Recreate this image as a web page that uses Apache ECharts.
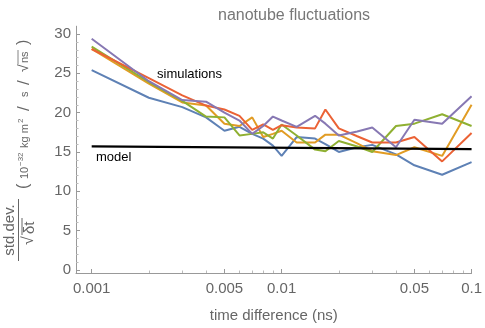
<!DOCTYPE html>
<html>
<head>
<meta charset="utf-8">
<script src="https://cdn.jsdelivr.net/npm/echarts@6/dist/echarts.min.js"></script>
<style>
  html, body { margin: 0; padding: 0; background: #fff; }
  #chart { width: 485px; height: 328px; }
</style>
</head>
<body>
<div id="chart"></div>
<script>
// time differences (ns), shared by every run
var dt = [0.001, 0.002, 0.003, 0.004, 0.005, 0.006, 0.007, 0.008, 0.009, 0.01,
          0.012, 0.015, 0.017, 0.02, 0.025, 0.03, 0.04, 0.05, 0.07, 0.1];

// std.dev./sqrt(dt) for the five simulations
var run1 = [25.4, 21.9, 20.7, 19.4, 17.7, 18.2, 17.3, 16.7, 15.8, 14.5,
            16.9, 16.7, 16.0, 15.0, 15.6, 15.9, 14.7, 13.3, 12.1, 13.7];
var run2 = [28.1, 23.7, 21.3, 20.9, 18.6, 18.3, 19.4, 16.9, 17.3, 17.7,
            16.2, 16.2, 17.2, 17.2, 16.1, 15.1, 14.6, 15.6, 14.5, 21.0];
var run3 = [28.4, 23.9, 21.5, 19.5, 19.4, 17.1, 17.3, 17.5, 16.7, 18.5,
            17.1, 15.3, 15.1, 16.4, 15.7, 15.0, 18.3, 18.6, 19.8, 18.3];
var run4 = [28.1, 24.4, 22.2, 20.9, 20.4, 19.6, 17.8, 18.5, 17.8, 18.4,
            18.1, 18.0, 20.4, 18.0, 17.0, 16.2, 16.2, 16.9, 13.8, 17.4];
var run5 = [29.4, 24.0, 21.6, 21.4, 20.0, 19.0, 17.3, 18.3, 19.5, 19.0,
            18.2, 19.6, 18.6, 17.1, 17.6, 18.1, 15.6, 19.1, 18.6, 22.1];

// model curve
var modelDt = [0.001, 0.1];
var modelVal = [15.7, 15.35];

// ticks
var xTicks = [0.001, 0.005, 0.01, 0.05, 0.1];
var xTickLabels = ['0.001', '0.005', '0.01', '0.05', '0.1'];
var xMinorTicks = [0.002, 0.003, 0.004, 0.006, 0.007, 0.008, 0.009,
                   0.02, 0.03, 0.04, 0.06, 0.07, 0.08, 0.09];
var yTicks = [0, 5, 10, 15, 20, 25, 30];
var yMinorTicks = [1, 2, 3, 4, 6, 7, 8, 9, 11, 12, 13, 14, 16, 17, 18, 19,
                   21, 22, 23, 24, 26, 27, 28, 29];

var xMin = 0.000827, xMax = 0.1;
var yMin = -0.4, yMax = 31;

var colors = ['#5E81B5', '#E19C24', '#8FB032', '#EB6235', '#8778B3'];
var runs = [run1, run2, run3, run4, run5];
var font = 'Liberation Sans, Arial, sans-serif';
var grey = '#666';
var axisGrey = '#999';

function pairs(xs, ys) {
  return xs.map(function (x, i) { return [x, ys[i]]; });
}

var series = runs.map(function (r, k) {
  return {
    type: 'line', xAxisIndex: 0, yAxisIndex: 0,
    data: pairs(dt, r), symbol: 'none',
    lineStyle: { color: colors[k], width: 2 }
  };
});
series.push({
  type: 'line', xAxisIndex: 0, yAxisIndex: 0,
  data: pairs(modelDt, modelVal), symbol: 'none',
  lineStyle: { color: '#000', width: 2.2 }
});

var lx = Math.log10(xMin), hx = Math.log10(xMax);
function xLabel(v) {
  for (var i = 0; i < xTicks.length; i++) {
    if (Math.abs(Math.log10(xTicks[i]) - v) < 1e-6) return xTickLabels[i];
  }
  return '';
}

var t = function (txt, x, y, size, extra) {
  var st = { text: txt, x: x, y: y, fill: grey, font: size + 'px ' + font,
             textAlign: 'left', textVerticalAlign: 'middle' };
  for (var k in extra) st[k] = extra[k];
  return { type: 'text', style: st };
};

var myChart = echarts.init(document.getElementById('chart'));
var option = {
  animation: false,
  title: {
    text: 'nanotube fluctuations', left: 213, top: 3,
    textStyle: { color: '#777', fontSize: 16, fontWeight: 'normal', fontFamily: font }
  },
  grid: { left: 76, right: 13, top: 26.2, bottom: 52.5 },
  xAxis: [
    {
      type: 'log', min: xMin, max: xMax,
      axisLine: { onZero: false, lineStyle: { color: axisGrey, width: 1 } },
      axisTick: { show: false }, axisLabel: { show: false },
      splitLine: { show: false }
    },
    {
      type: 'value', min: lx, max: hx, position: 'bottom',
      axisLine: { show: false, onZero: false },
      axisTick: { show: true, inside: true, length: 4,
                  lineStyle: { color: axisGrey },
                  customValues: xTicks.map(Math.log10) },
      axisLabel: { customValues: xTicks.map(Math.log10), formatter: xLabel,
                   color: grey, fontSize: 15, fontFamily: font, margin: 8 },
      splitLine: { show: false },
      name: 'time difference (ns)', nameLocation: 'middle', nameGap: 35,
      nameTextStyle: { color: grey, fontSize: 15, fontFamily: font }
    },
    {
      type: 'value', min: lx, max: hx, position: 'bottom',
      axisLine: { show: false, onZero: false },
      axisTick: { show: true, inside: true, length: 2.5,
                  lineStyle: { color: '#bbb' },
                  customValues: xMinorTicks.map(Math.log10) },
      axisLabel: { show: false }, splitLine: { show: false }
    }
  ],
  yAxis: [
    {
      type: 'value', min: yMin, max: yMax, position: 'left',
      axisLine: { show: true, onZero: false, lineStyle: { color: axisGrey, width: 1 } },
      axisTick: { show: true, inside: true, length: 4,
                  lineStyle: { color: axisGrey }, customValues: yTicks },
      axisLabel: { customValues: yTicks, color: grey, fontSize: 15,
                   fontFamily: font, margin: 5 },
      splitLine: { show: false }
    },
    {
      type: 'value', min: yMin, max: yMax, position: 'left',
      axisLine: { show: false, onZero: false },
      axisTick: { show: true, inside: true, length: 2.5,
                  lineStyle: { color: '#bbb' }, customValues: yMinorTicks },
      axisLabel: { show: false }, splitLine: { show: false }
    }
  ],
  series: series,
  graphic: [
    { type: 'text', left: 157, top: 68,
      style: { text: 'simulations', fill: '#000', font: '13px ' + font } },
    { type: 'text', left: 96, top: 151,
      style: { text: 'model', fill: '#000', font: '13px ' + font } },
    // y axis title: fraction
    {
      type: 'group', x: 18.5, y: 230, rotation: Math.PI / 2,
      children: [
        t('std.dev.', 0, -1, 15, { textAlign: 'center', textVerticalAlign: 'bottom' }),
        { type: 'line', shape: { x1: -31, y1: 0, x2: 31, y2: 0 },
          style: { stroke: grey, lineWidth: 1 } },
        t('\u221A', -15, 2, 16, { textVerticalAlign: 'top' }),
        t('\u03B4t', -4, 4, 15, { textVerticalAlign: 'top' }),
        { type: 'line', shape: { x1: -5, y1: 3.5, x2: 12, y2: 3.5 },
          style: { stroke: grey, lineWidth: 1 } }
      ]
    },
    // y axis title: units
    {
      type: 'group', x: 24, y: 189, rotation: Math.PI / 2,
      children: [
        t('(', 0, 0, 16, {}),
        t('10', 10, 1, 11, {}),
        t('\u221232', 23, -3.5, 8, {}),
        t('kg m', 41, 1, 11, {}),
        t('2', 66, -3.5, 8, {}),
        t('/', 78, 0, 17, {}),
        t('s', 92, 1, 11, {}),
        t('/', 104, 0, 17, {}),
        t('\u221A', 117, 0, 14, {}),
        t('ns', 126, 1, 11, {}),
        { type: 'line', shape: { x1: 125, y1: -6, x2: 139, y2: -6 },
          style: { stroke: grey, lineWidth: 0.8 } },
        t(')', 144, 0, 16, {})
      ]
    }
  ]
};
myChart.setOption(option);
</script>
</body>
</html>
